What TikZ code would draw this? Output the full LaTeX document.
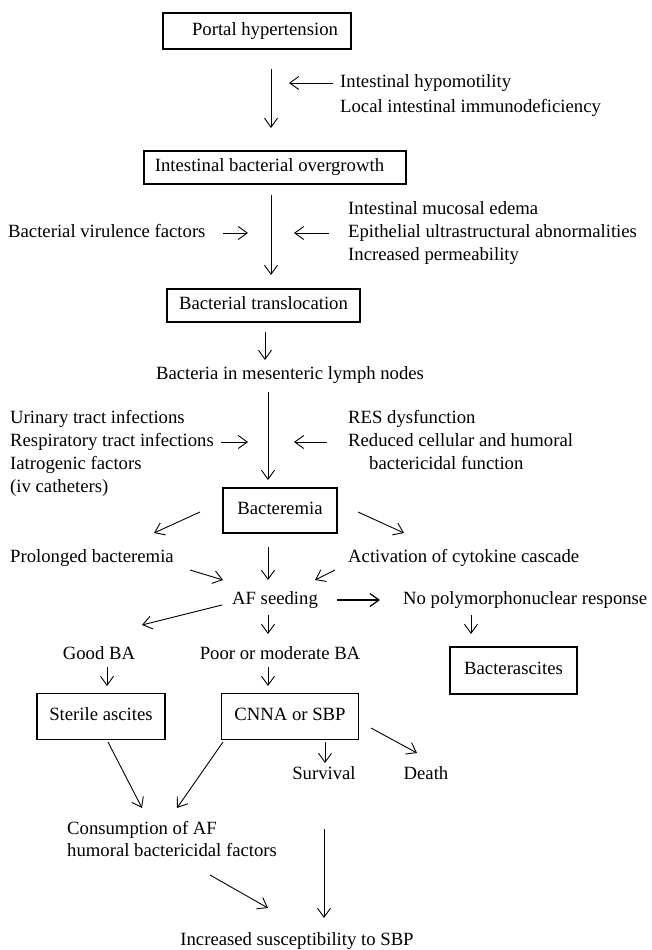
\documentclass[tikz,border=0pt]{standalone}
\usepackage{fontspec}
\setmainfont{Liberation Serif}
\usetikzlibrary{arrows.meta}
\begin{document}
\begin{tikzpicture}[x=1pt,y=-1pt,
  lbl/.style={inner sep=0pt, text height=13pt, text depth=4.6pt, font=\fontsize{18.7}{22}\selectfont},
  box/.style={lbl, draw, line width=1.5pt},
  arr/.style={-{Straight Barb[length=9pt,width=13pt]}, line width=0.9pt},
  bigarr/.style={arr, line width=1.3pt}]
\useasboundingbox (0,0) rectangle (651,950);

% boxes
\node[box, minimum width=188pt, minimum height=36pt] (portal) at (257,31) {\hspace*{16pt}Portal hypertension};
\node[box, minimum width=262pt, minimum height=33pt] (overgrowth) at (275,167.5) {Intestinal bacterial overgrowth\hspace*{11pt}};
\node[box, minimum width=193pt, minimum height=33pt] (transloc) at (263.5,305.5) {Bacterial translocation};
\node[box, minimum width=114pt, minimum height=45pt] (bacteremia) at (280,510.5) {Bacteremia};
\node[box, minimum width=127pt, minimum height=47pt] (bacterascites) at (513.5,670.5) {Bacterascites};
\node[box, minimum width=128pt, minimum height=46pt] (sterile) at (101,716.5) {Sterile ascites};
\node[box, minimum width=137pt, minimum height=46pt] (cnna) at (290,716.5) {CNNA or SBP};

% labels
\node[lbl, anchor=west] (hypo) at (340,83) {Intestinal hypomotility};
\node[lbl, anchor=west] (local) at (340,108) {Local intestinal immunodeficiency};
\node[lbl, anchor=west] (virul) at (8,233) {Bacterial virulence factors};
\node[lbl, anchor=west] (mucosal) at (348,210) {Intestinal mucosal edema};
\node[lbl, anchor=west] (epith) at (348,233) {Epithelial ultrastructural abnormalities};
\node[lbl, anchor=west] (perm) at (348,256) {Increased permeability};
\node[lbl] (lymph) at (290,375) {Bacteria in mesenteric lymph nodes};
\node[lbl, anchor=west] (urin) at (10,419) {Urinary tract infections};
\node[lbl, anchor=west] (resp) at (10,442) {Respiratory tract infections};
\node[lbl, anchor=west] (iatro) at (10,465) {Iatrogenic factors};
\node[lbl, anchor=west] (ivc) at (10,488) {(iv catheters)};
\node[lbl, anchor=west] (res) at (348,419) {RES dysfunction};
\node[lbl, anchor=west] (reduced) at (348,442) {Reduced cellular and humoral};
\node[lbl, anchor=west] (bactfn) at (369,465) {bactericidal function};
\node[lbl, anchor=west] (prolonged) at (10,558) {Prolonged bacteremia};
\node[lbl, anchor=west] (activation) at (348,558) {Activation of cytokine cascade};
\node[lbl] (afseed) at (275,600) {AF seeding};
\node[lbl, anchor=west] (nopmn) at (403,600) {No polymorphonuclear response};
\node[lbl] (goodba) at (99,655) {Good BA};
\node[lbl] (poorba) at (280,655) {Poor or moderate BA};
\node[lbl] (survival) at (324,775) {Survival};
\node[lbl] (death) at (426,775) {Death};
\node[lbl, anchor=west] (consum) at (67,830) {Consumption of AF};
\node[lbl, anchor=west] (humoral) at (67,852) {humoral bactericidal factors};
\node[lbl] (incr) at (297,941) {Increased susceptibility to SBP};

% connector end points
\coordinate (a1s) at (271,69);   \coordinate (a1e) at (271,128);
\coordinate (hyS) at (333,83);   \coordinate (hyE) at (289,83);
\coordinate (a2s) at (271,195);  \coordinate (a2e) at (271,275);
\coordinate (viS) at (223,233);  \coordinate (viE) at (248,233);
\coordinate (epS) at (329,233);  \coordinate (epE) at (294,233);
\coordinate (a3s) at (265,332);  \coordinate (a3e) at (265,360);
\coordinate (a4s) at (268,392);  \coordinate (a4e) at (268,480);
\coordinate (reS) at (221,442);  \coordinate (reE) at (248,442);
\coordinate (rdS) at (327,442);  \coordinate (rdE) at (294,442);
\coordinate (blS) at (200,512);  \coordinate (blE) at (154,533);
\coordinate (brS) at (358,512);  \coordinate (brE) at (404,533);
\coordinate (plS) at (190,570);  \coordinate (plE) at (223,580);
\coordinate (bdS) at (268,547);  \coordinate (bdE) at (268,580);
\coordinate (acS) at (335,570);  \coordinate (acE) at (315,580);
\coordinate (afrS) at (337,600); \coordinate (afrE) at (380,600);
\coordinate (aflS) at (222,605); \coordinate (aflE) at (142,625);
\coordinate (afdS) at (268,615); \coordinate (afdE) at (268,634);
\coordinate (npS) at (471,615);  \coordinate (npE) at (471,634);
\coordinate (gdS) at (107,667);  \coordinate (gdE) at (107,686);
\coordinate (pdS) at (268,667);  \coordinate (pdE) at (268,686);
\coordinate (cdS) at (371,728);  \coordinate (cdE) at (417,753);
\coordinate (csS) at (325,742);  \coordinate (csE) at (325,763);
\coordinate (stS) at (108,742);  \coordinate (stE) at (142,808);
\coordinate (ccS) at (223,742);  \coordinate (ccE) at (177,808);
\coordinate (hiS) at (210,875);  \coordinate (hiE) at (268,908);
\coordinate (ldS) at (324,829);  \coordinate (ldE) at (324,918);

% connectors
\draw[arr] (a1s) -- (a1e);
\draw[arr] (hyS) -- (hyE);
\draw[arr] (a2s) -- (a2e);
\draw[arr] (viS) -- (viE);
\draw[arr] (epS) -- (epE);
\draw[arr] (a3s) -- (a3e);
\draw[arr] (a4s) -- (a4e);
\draw[arr] (reS) -- (reE);
\draw[arr] (rdS) -- (rdE);
\draw[arr] (blS) -- (blE);
\draw[arr] (brS) -- (brE);
\draw[arr] (plS) -- (plE);
\draw[arr] (bdS) -- (bdE);
\draw[arr] (acS) -- (acE);
\draw[bigarr] (afrS) -- (afrE);
\draw[arr] (aflS) -- (aflE);
\draw[arr] (afdS) -- (afdE);
\draw[arr] (npS) -- (npE);
\draw[arr] (gdS) -- (gdE);
\draw[arr] (pdS) -- (pdE);
\draw[arr] (cdS) -- (cdE);
\draw[arr] (csS) -- (csE);
\draw[arr] (stS) -- (stE);
\draw[arr] (ccS) -- (ccE);
\draw[arr] (hiS) -- (hiE);
\draw[arr] (ldS) -- (ldE);
\end{tikzpicture}
\end{document}
